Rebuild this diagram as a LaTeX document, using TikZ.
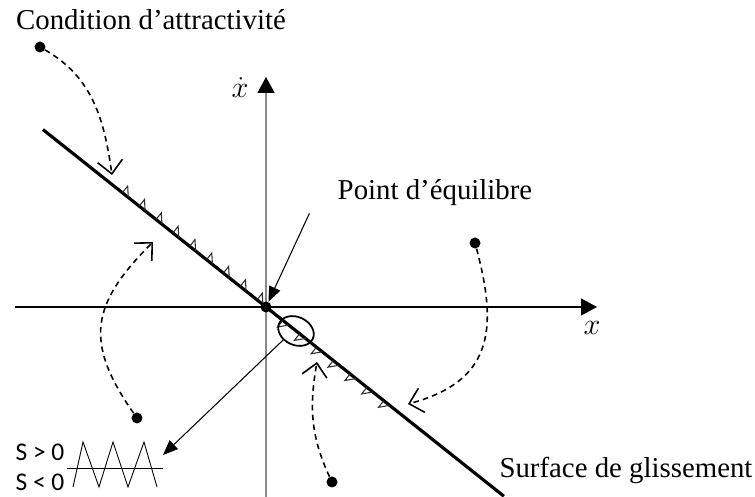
\documentclass[tikz,border=0pt]{standalone}
\usepackage{fontspec}
\setmainfont{Liberation Serif}
\newfontfamily\insetfont{Carlito}
\usetikzlibrary{arrows.meta,shapes.geometric,positioning}
\definecolor{axisgray}{HTML}{8A8A8A}
\definecolor{toothgray}{HTML}{2E2E2E}
\tikzset{
	labeltext/.style={font=\fontsize{16.4}{19}\selectfont, inner sep=0pt},
	mathtext/.style={font=\fontsize{17}{20}\selectfont, inner sep=0pt},
	insettext/.style={font=\insetfont\fontsize{14.5}{17}\selectfont, inner sep=0pt},
	startdot/.style={circle, fill=black, inner sep=0pt, minimum size=0.22cm},
	attract/.style={dash pattern=on 3.2pt off 2.4pt, line width=0.9pt,
		-{Straight Barb[length=0.26cm,width=0.5cm]}},
	pointer/.style={line width=0.6pt, -{Triangle[length=0.3cm,width=0.24cm]}},
	axisarrow/.style={-{Triangle[length=0.32cm,width=0.34cm,black]}},
}

\begin{document}
\begin{tikzpicture}
	% Fixed white canvas with the reference margins.
	\path[use as bounding box] (-5.32,-3.8) rectangle (9.78,6.14);
	\fill[white] (-5.32,-3.8) rectangle (9.78,6.14);

	% Phase plane axes.
	\draw[line width=0.7pt, axisarrow] (-5.02,0) -- (6.62,0);
	\draw[axisgray, line width=0.9pt, axisarrow] (0,-3.8) -- (0,4.6);
	\node[mathtext] (xlab) at (6.52,-0.42) {$x$};
	\node[mathtext] (xdotlab) at (-0.52,4.38) {$\dot{x}$};

	% Sliding surface through the origin.
	\draw[line width=1.8pt] (141.5:5.7) -- (-38.5:6.08);

	% Chattering teeth along the surface.
	\begin{scope}[rotate=-38.5, toothgray, line width=0.6pt]
		\foreach \s in {0.23,0.66,...,3.8} {
			\draw (-\s,0) -- ++(0,0.17) -- ++(0.15,-0.17);
		}
		\foreach \s in {0.43,0.86,...,3.1} {
			\draw (\s,0) -- ++(0,-0.17) -- ++(0.15,0.17);
		}
	\end{scope}

	% Equilibrium point and zoomed region.
	\node[startdot, minimum size=0.22cm] (eq) at (0,0) {};
	\node[ellipse, draw, line width=1pt, minimum width=0.74cm, minimum height=0.56cm,
		rotate=-25] (ell) at (0.6,-0.48) {};

	% Labels.
	\node[labeltext] (cond) at (-2.3,5.74) {Condition d’attractivité};
	\node[labeltext] (pt) at (3.38,2.28) {Point d’équilibre};
	\node[labeltext] (surf) at (7.2,-3.26) {Surface de glissement};
	\draw[pointer] ([xshift=-0.56cm,yshift=-0.14cm]pt.south west) -- (eq);

	% Zoomed chattering inset.
	\coordinate (zz) at (-2.06,-2.96);
	\draw[line width=0.5pt] (-3.98,-3.22) -- (-2.06,-3.22);
	\draw[line width=0.5pt] (-3.86,-3.6) -- (-3.66,-2.7) -- (-3.34,-3.6) -- (-3.06,-2.7)
		-- (-2.76,-3.6) -- (-2.44,-2.7) -- (-2.18,-3.6);
	\node[insettext] (spos) at (-4.52,-2.9) {S > 0};
	\node[insettext] (sneg) at (-4.52,-3.5) {S < 0};
	\draw[pointer] (ell.240) -- (zz);

	% Trajectories attracted to the surface.
	\node[startdot] (da) at (-4.52,5.2) {};
	\node[startdot] (db) at (-2.58,-2.22) {};
	\node[startdot] (dc) at (1.32,-3.5) {};
	\node[startdot] (dd) at (4.18,1.28) {};
	\coordinate (ta) at (-3.08,2.64);
	\coordinate (tb) at (-2.26,1.3);
	\coordinate (tc) at (1.02,-1.1);
	\coordinate (td) at (2.84,-1.94);
	\draw[attract] (da) to[out=-30, in=98] (ta);
	\draw[attract] (db) to[out=125, in=-135, looseness=1.3] (tb);
	\draw[attract] (dc) to[out=115, in=-100] (tc);
	\draw[attract] (dd) to[out=-75, in=15, looseness=1.3] (td);
\end{tikzpicture}
\end{document}
